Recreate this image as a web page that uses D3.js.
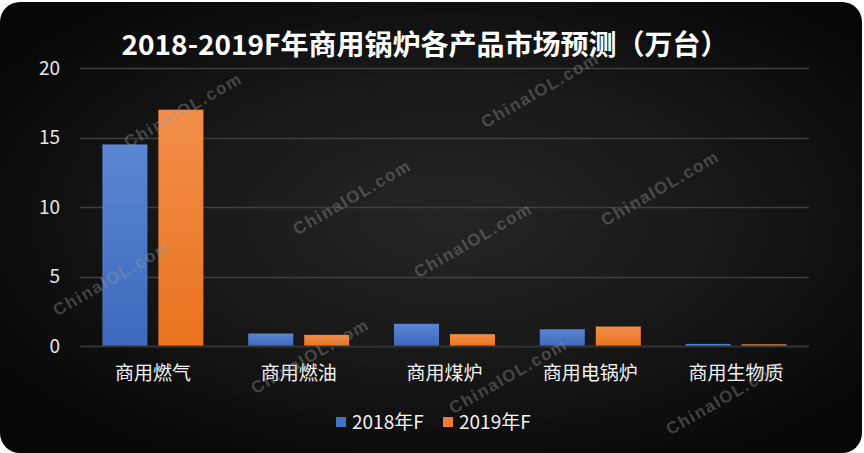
<!DOCTYPE html>
<html>
<head>
<meta charset="utf-8">
<script src="https://cdn.jsdelivr.net/npm/d3@7"></script>
<style>
  html, body { margin: 0; padding: 0; background: #ffffff; }
  svg { display: block; }
</style>
</head>
<body>
<svg id="chart" width="864" height="453"></svg>
<script>
const title = "2018-2019F年商用锅炉各产品市场预测（万台）";
const categories = ["商用燃气", "商用燃油", "商用煤炉", "商用电锅炉", "商用生物质"];
const seriesNames = ["2018年F", "2019年F"];
const values2018 = [14.5, 0.9, 1.6, 1.2, 0.15];
const values2019 = [17.0, 0.8, 0.85, 1.4, 0.12];
const yTicks = [0, 5, 10, 15, 20];
const watermarkText = "ChinaIOL.com";

const W = 864, H = 453;
const margin = { left: 80, right: 55, top: 68, bottom: 107 };
const svg = d3.select("#chart");
const defs = svg.append("defs");

const bg = defs.append("radialGradient").attr("id", "bg")
  .attr("cx", "52%").attr("cy", "48%").attr("r", "62%");
bg.append("stop").attr("offset", "0%").attr("stop-color", "#252525");
bg.append("stop").attr("offset", "45%").attr("stop-color", "#1a1a1a");
bg.append("stop").attr("offset", "100%").attr("stop-color", "#070707");

const colors = [
  { id: "gBlue", top: "#5a86d3", bottom: "#3d69bd", legend: "#4472c4" },
  { id: "gOrange", top: "#f28e4a", bottom: "#e9731f", legend: "#ed7d31" }
];
colors.forEach(c => {
  const g = defs.append("linearGradient").attr("id", c.id)
    .attr("x1", 0).attr("y1", 0).attr("x2", 0).attr("y2", 1);
  g.append("stop").attr("offset", "0%").attr("stop-color", c.top);
  g.append("stop").attr("offset", "100%").attr("stop-color", c.bottom);
});

svg.append("rect").attr("x", 0).attr("y", 2).attr("width", 862).attr("height", 451)
  .attr("rx", 20).attr("ry", 20).attr("fill", "url(#bg)");

const x = d3.scaleBand().domain(categories)
  .range([margin.left, W - margin.right]).paddingInner(0).paddingOuter(0);
const xs = d3.scaleBand().domain(seriesNames)
  .range([0, x.bandwidth()]).paddingInner(0.196).paddingOuter(0.4);
const y = d3.scaleLinear().domain([0, 20]).range([H - margin.bottom, margin.top]);

// gridlines
svg.append("g").selectAll("line").data(yTicks.filter(t => t > 0)).join("line")
  .attr("x1", margin.left).attr("x2", W - margin.right)
  .attr("y1", d => Math.round(y(d)) + 0.5).attr("y2", d => Math.round(y(d)) + 0.5)
  .attr("stroke", "#3f3f3f").attr("stroke-width", 1.5);

// y axis labels
const yAxis = d3.axisLeft(y).tickValues(yTicks).tickSize(0).tickPadding(0);
const yg = svg.append("g").attr("transform", `translate(${margin.left - 20},0)`).call(yAxis);
yg.select(".domain").remove();
yg.selectAll("text").attr("fill", "#e6e6e6")
  .style("font-family", "'Noto Sans CJK SC', 'Noto Sans', sans-serif").style("font-size", "19px");

// bars
const series = [values2018, values2019];
series.forEach((vals, si) => {
  svg.append("g").selectAll("rect").data(vals).join("rect")
    .attr("x", (d, i) => x(categories[i]) + xs(seriesNames[si]))
    .attr("width", xs.bandwidth())
    .attr("y", d => y(d))
    .attr("height", d => y(0) - y(d))
    .attr("fill", `url(#${colors[si].id})`);
});

// baseline
svg.append("line").attr("x1", margin.left).attr("x2", W - margin.right)
  .attr("y1", y(0) + 0.5).attr("y2", y(0) + 0.5)
  .attr("stroke", "#333333").attr("stroke-width", 2);

// x axis labels
const xAxis = d3.axisBottom(x).tickSize(0).tickPadding(0);
const xg = svg.append("g").attr("transform", `translate(0,${y(0) + 20})`).call(xAxis);
xg.select(".domain").remove();
xg.selectAll("text").attr("fill", "#f2f2f2")
  .style("font-family", "'Noto Sans CJK SC', sans-serif").style("font-size", "19px");

// title
svg.append("text").attr("x", 425).attr("y", 55).attr("text-anchor", "middle")
  .attr("fill", "#ffffff").style("font-family", "'Noto Sans CJK SC', sans-serif")
  .style("font-weight", "bold").style("font-size", "28px").text(title);

// legend
const legendX = [336, 443];
const lg = svg.append("g");
seriesNames.forEach((name, i) => {
  lg.append("rect").attr("x", legendX[i]).attr("y", 417).attr("width", 10).attr("height", 10)
    .attr("fill", colors[i].legend);
  lg.append("text").attr("x", legendX[i] + 16).attr("y", 422).attr("dy", "0.35em")
    .attr("fill", "#f2f2f2").style("font-family", "'Noto Sans CJK SC', sans-serif")
    .style("font-size", "19px").text(name);
});

// watermarks
const watermarkSpots = [[540, 90], [352, 197], [473, 240], [660, 188], [112, 278],
  [183, 110], [310, 356], [508, 376], [725, 397]];
svg.append("g").selectAll("text").data(watermarkSpots).join("text")
  .attr("transform", d => `translate(${d[0]},${d[1]}) rotate(-30)`)
  .attr("text-anchor", "middle").attr("dy", "0.35em")
  .attr("fill", "#9a9a9a").attr("fill-opacity", 0.38)
  .style("font-family", "'Liberation Sans', Arial, sans-serif").style("font-weight", "bold")
  .style("font-size", "17px").style("letter-spacing", "1.5px")
  .text(watermarkText);
</script>
</body>
</html>
